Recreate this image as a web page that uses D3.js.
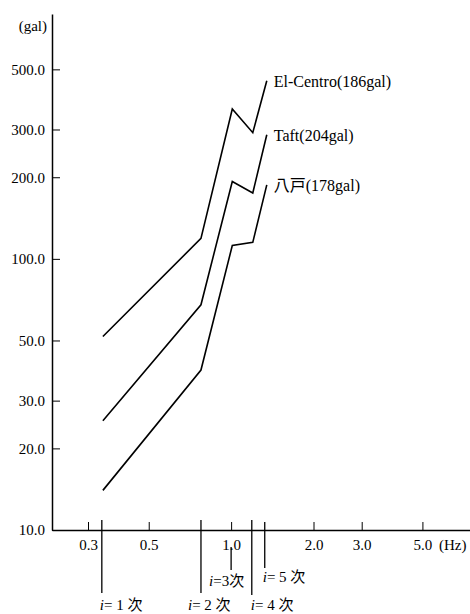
<!DOCTYPE html>
<html>
<head>
<meta charset="utf-8">
<script src="https://cdn.jsdelivr.net/npm/d3@7"></script>
<style>
  body { margin: 0; background: #fff; }
  svg { display: block; font-family: "Liberation Serif", "Noto Sans CJK JP", serif; }
</style>
</head>
<body>
<figure id="chart" style="margin:0"></figure>
<script>
// data
const freqs = [0.34, 0.776, 1.01, 1.2, 1.35];          // Hz
const elCentro = [51.7, 119, 357, 292, 454];          // gal
const taft = [25.3, 67.7, 193, 175, 287];
const hachinohe = [14.0, 38.9, 112, 115, 187.5];
const seriesNames = ["El-Centro(186gal)", "Taft(204gal)", "八戸(178gal)"];
const modeFreqs = [0.337, 0.776, 1.0, 1.19, 1.327];
const modeOrders = ["1", "2", "3", "4", "5"];
const xTicks = [0.3, 0.5, 1, 2, 3, 5];
const yTicks = [10, 20, 30, 50, 100, 200, 300, 500];

const width = 470, height = 614;
const axisLeft = 52, axisBottom = 530, axisTop = 14, axisRight = 470;

const svg = d3.select("figure#chart")
  .append("svg")
  .attr("width", width)
  .attr("height", height);

// X axis (log, ticks pointing up)
const x = d3.scaleLog().domain([0.3, 3]).range([88, 361.7]);
x.domain([x.invert(axisLeft), x.invert(axisRight)]).range([axisLeft, axisRight]);
const xAxis = svg.append("g")
  .attr("transform", "translate(0," + axisBottom + ")")
  .call(d3.axisBottom(x).tickValues(xTicks).tickFormat(d3.format(".1f"))
    .tickSizeInner(-8).tickSizeOuter(0).tickPadding(9));
xAxis.attr("font-family", null).attr("font-size", 15);
xAxis.select(".domain").attr("stroke-width", 1.5);
xAxis.selectAll("text").attr("fill", "#000");

svg.append("text")
  .attr("x", 439).attr("y", 550)
  .attr("font-size", 15)
  .text("(Hz)");

// Y axis (log, ticks pointing right)
const y = d3.scaleLog().domain([10, 800]).range([axisBottom, axisTop]);
const yAxis = svg.append("g")
  .attr("transform", "translate(" + axisLeft + ",0)")
  .call(d3.axisLeft(y).tickValues(yTicks).tickFormat(d3.format(".1f"))
    .tickSizeInner(-8).tickSizeOuter(0).tickPadding(7));
yAxis.attr("font-family", null).attr("font-size", 15);
yAxis.select(".domain").attr("stroke-width", 1.5);
yAxis.selectAll("text").attr("fill", "#000");

svg.append("text")
  .attr("x", 47).attr("y", 31)
  .attr("text-anchor", "end")
  .attr("font-size", 15)
  .text("(gal)");

// Add lines
const series = [elCentro, taft, hachinohe];
const line = d3.line()
  .x((d, i) => x(freqs[i]))
  .y(d => y(d));

svg.append("g")
  .selectAll("path")
  .data(series)
  .enter()
  .append("path")
  .attr("d", line)
  .attr("fill", "none")
  .attr("stroke", "#000")
  .attr("stroke-width", 1.6)
  .attr("stroke-linejoin", "miter");

// Add labels at line ends
svg.append("g")
  .selectAll("text")
  .data(series)
  .enter()
  .append("text")
  .attr("x", d => x(freqs[freqs.length - 1]) + 7)
  .attr("y", d => y(d[d.length - 1]) + 6)
  .attr("font-size", 16)
  .text((d, i) => seriesNames[i]);

// mode markers below the axis
const markerLayout = [
  {y1: 520, y2: 593, dx: -2, ly: 610, sep: "= ", tail: " 次"},
  {y1: 520, y2: 593, dx: -13, ly: 610, sep: "= ", tail: " 次"},
  {y1: 547, y2: 570, dx: -22, ly: 586, sep: "=", tail: "次"},
  {y1: 520, y2: 595, dx: -1, ly: 610, sep: "= ", tail: " 次"},
  {y1: 522, y2: 568, dx: -2, ly: 582, sep: "= ", tail: " 次"}
];

const marks = svg.append("g");
marks.selectAll("line")
  .data(modeFreqs)
  .enter()
  .append("line")
  .attr("x1", d => x(d))
  .attr("x2", d => x(d))
  .attr("y1", (d, i) => markerLayout[i].y1)
  .attr("y2", (d, i) => markerLayout[i].y2)
  .attr("stroke", "#000")
  .attr("stroke-width", 1.3);

const labels = marks.selectAll("text")
  .data(modeFreqs)
  .enter()
  .append("text")
  .attr("x", (d, i) => x(d) + markerLayout[i].dx)
  .attr("y", (d, i) => markerLayout[i].ly)
  .attr("font-size", 15);
labels.append("tspan").attr("font-style", "italic").text("i");
labels.append("tspan").text((d, i) => markerLayout[i].sep + modeOrders[i] + markerLayout[i].tail);
</script>
</body>
</html>
